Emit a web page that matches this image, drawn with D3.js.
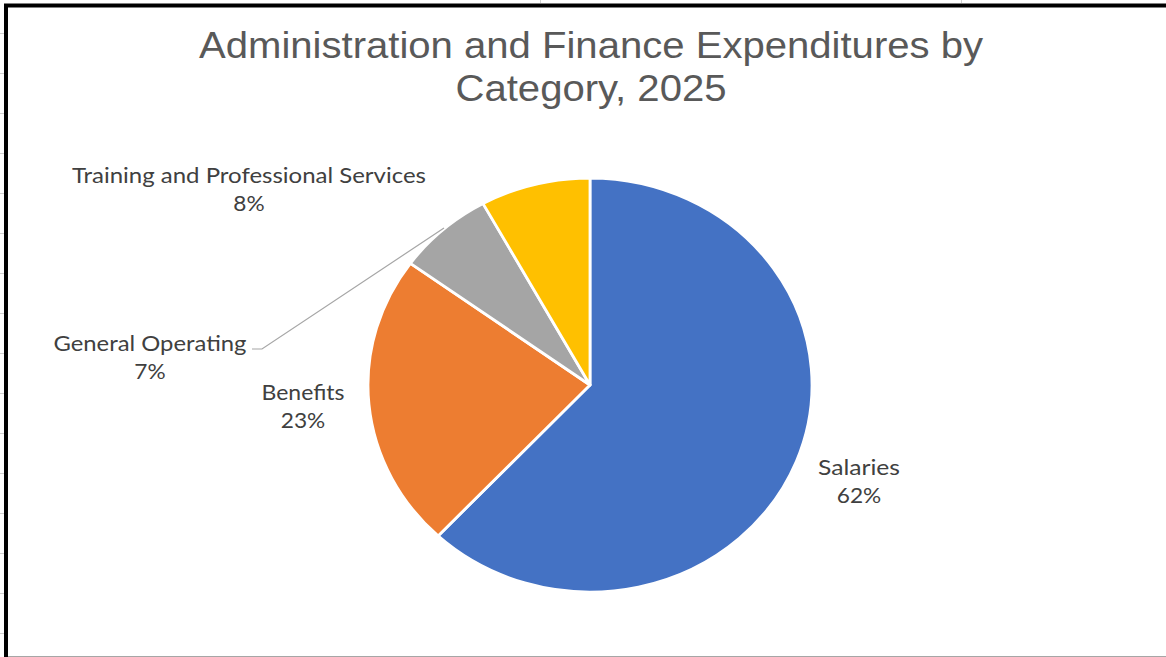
<!DOCTYPE html>
<html>
<head>
<meta charset="utf-8">
<script src="https://cdn.jsdelivr.net/npm/d3@7"></script>
<style>
  html, body { margin: 0; padding: 0; background: #fff; }
  svg { display: block; }
</style>
</head>
<body>
<svg id="chart" width="1166" height="657"></svg>
<script>
// Expenditure shares by category, clockwise from 12 o'clock
const categories = ["Salaries", "Benefits", "General Operating", "Training and Professional Services"];
const shares = [62, 23, 7, 8];
const percentLabels = ["62%", "23%", "7%", "8%"];
const sliceColors = ["#4472C4", "#ED7D31", "#A5A5A5", "#FFC000"];
const titleLines = ["Administration and Finance Expenditures by", "Category, 2025"];

const W = 1166, H = 657;
const svg = d3.select("#chart");

// sheet gridline stubs peeking around the frame
const grid = svg.append("g").attr("stroke", "#d0d0d0").attr("stroke-width", 1);
for (let y = 33; y < H; y += 40) {
  grid.append("line").attr("x1", 0).attr("x2", 4).attr("y1", y + 0.5).attr("y2", y + 0.5);
}
[540, 961].forEach(x => grid.append("line").attr("x1", x + 0.5).attr("x2", x + 0.5).attr("y1", 0).attr("y2", 3));

// chart area frame
svg.append("rect").attr("x", 8).attr("y", 7).attr("width", W - 8).attr("height", H - 8).attr("fill", "#fff");
svg.append("line").attr("x1", 4).attr("x2", W).attr("y1", 5.5).attr("y2", 5.5)
  .attr("stroke", "#000").attr("stroke-width", 4);
svg.append("line").attr("x1", 6).attr("x2", 6).attr("y1", 4).attr("y2", H)
  .attr("stroke", "#000").attr("stroke-width", 4);
svg.append("line").attr("x1", 8).attr("x2", W).attr("y1", 656.5).attr("y2", 656.5)
  .attr("stroke", "#a6a6a6").attr("stroke-width", 1);

// title
const title = svg.append("g")
  .attr("font-family", "'Liberation Sans', Arial, sans-serif")
  .attr("font-size", 36)
  .attr("fill", "#595959")
  .attr("text-anchor", "middle");
const titleLayout = [{ y: 58, len: 784 }, { y: 101, len: 271 }];
titleLines.forEach((t, i) => {
  title.append("text")
    .attr("x", 591).attr("y", titleLayout[i].y)
    .attr("textLength", titleLayout[i].len)
    .attr("lengthAdjust", "spacingAndGlyphs")
    .text(t);
});

// pie, drawn slightly wider than tall
const cx = 590, cy = 385, r = 207, stretchX = 222 / 207;
const data = categories.map((c, i) => ({ name: c, value: shares[i], pct: percentLabels[i], color: sliceColors[i] }));
const pie = d3.pie().value(d => d.value).sort(null).startAngle(0).endAngle(2 * Math.PI);
const arc = d3.arc().innerRadius(0).outerRadius(r);

const pieG = svg.append("g").attr("transform", `translate(${cx},${cy}) scale(${stretchX},1)`);
pieG.selectAll("path")
  .data(pie(data))
  .join("path")
  .attr("d", arc)
  .attr("fill", d => d.data.color)
  .attr("stroke", "#fff")
  .attr("stroke-width", 2.8)
  .attr("stroke-linejoin", "round")
  .attr("vector-effect", "non-scaling-stroke");

// leader line for the General Operating label
svg.append("polyline")
  .attr("points", "252,349 262,349 444,228")
  .attr("fill", "none")
  .attr("stroke", "#a6a6a6")
  .attr("stroke-width", 1.2);

// data labels: name line + percent line
const labelLayout = {
  "Salaries": { x: 859, y: 475, len: 82 },
  "Benefits": { x: 303, y: 400, len: 83 },
  "General Operating": { x: 150, y: 351, len: 193 },
  "Training and Professional Services": { x: 249, y: 183, len: 354 }
};
const labels = svg.append("g")
  .attr("font-family", "Lato, 'Open Sans', sans-serif")
  .attr("font-size", 21)
  .attr("fill", "#404040")
  .attr("text-anchor", "middle");
data.forEach(d => {
  const p = labelLayout[d.name];
  labels.append("text")
    .attr("x", p.x).attr("y", p.y)
    .attr("textLength", p.len)
    .attr("lengthAdjust", "spacingAndGlyphs")
    .text(d.name);
  const pctText = labels.append("text")
    .attr("x", p.x).attr("y", p.y + 28)
    .text(d.pct);
  const w = pctText.node().getComputedTextLength();
  pctText.attr("textLength", w * 1.08).attr("lengthAdjust", "spacingAndGlyphs");
});
</script>
</body>
</html>
